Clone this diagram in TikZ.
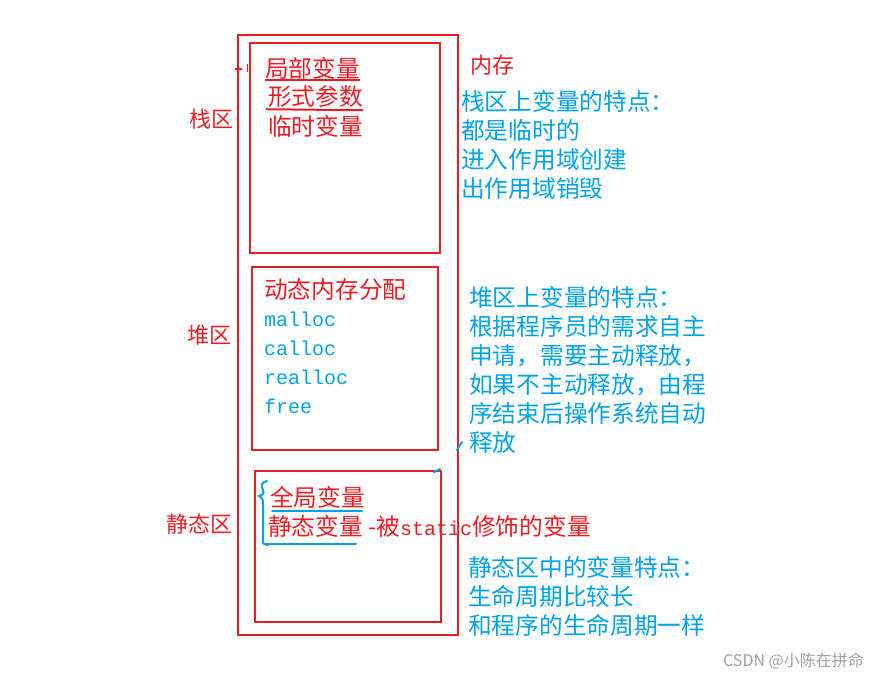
\documentclass[tikz,border=0pt]{standalone}
\usepackage{fontspec}
\setmainfont{Noto Sans CJK SC}
\newfontfamily\codefont{Liberation Mono}
\usetikzlibrary{positioning}
\definecolor{memRed}{RGB}{237,28,36}
\definecolor{memBlue}{RGB}{0,162,232}
\definecolor{markGray}{RGB}{160,160,160}

\begin{document}
\begin{tikzpicture}[
  x=1pt, y=-1pt,
  zone/.style={draw=memRed, line width=2pt},
  labeltxt/.style={text=memRed, font=\fontsize{22}{29}\selectfont, anchor=west, inner sep=0pt},
  redtxt/.style={text=memRed, font=\fontsize{23.7}{29}\selectfont, anchor=west, inner sep=0pt},
  bluetxt/.style={text=memBlue, font=\fontsize{23.7}{29}\selectfont, anchor=north west, inner sep=0pt, align=left},
  codetxt/.style={text=memBlue, font=\codefont\fontsize{20}{29}\selectfont, anchor=north west, inner sep=0pt, align=left},
  scrib/.style={draw=memBlue, line width=2pt, line cap=round},
  redline/.style={draw=memRed, line width=2pt}
]
  \useasboundingbox (0,0) rectangle (877,680);

  % memory and its three zones
  \draw[zone] (238,35) rectangle (458,635);
  \draw[zone] (250,43) rectangle (440,253);
  \draw[zone] (252,267) rectangle (438,450);
  \draw[zone] (255,471) rectangle (441,622);

  % zone names
  \node[labeltxt] (stackName) at (189,119) {栈区};
  \node[labeltxt] (heapName) at (187,335) {堆区};
  \node[labeltxt] (staticName) at (166,524) {静态区};
  \node[labeltxt] (memName) at (470,65) {内存};

  % stack zone
  \node[redtxt] (local) at (265,68) {局部变量};
  \node[redtxt] (param) at (268,97) {形式参数};
  \node[redtxt] (temp) at (268,126) {临时变量};
  \draw[redline] ([yshift=-1pt]local.south west) -- ([yshift=-1pt]local.south east);
  \draw[redline] ([xshift=-2pt,yshift=-1pt]param.south west) -- ([yshift=-2pt]param.south east);
  \draw[redline] (235,69) -- (242,69);
  \draw[redline, line width=1pt] (247,64) -- (247,72);

  \node[bluetxt] (stackNote) at (461,90) {栈区上变量的特点：\\都是临时的\\进入作用域创建\\出作用域销毁};

  % heap zone
  \node[redtxt] (dynMem) at (264,289) {动态内存分配};
  \node[codetxt] (funcs) at (264,312) {malloc\\calloc\\realloc\\free};

  \node[bluetxt] (heapNote) at (469,286) {堆区上变量的特点：\\根据程序员的需求自主\\申请，需要主动释放，\\如果不主动释放，由程\\序结束后操作系统自动\\释放};
  \draw[scrib] (457,450) -- (462,442);

  % static zone
  \node[redtxt] (global) at (270,497) {全局变量};
  \node[redtxt] (staticVar) at (268,526) {静态变量 -被{\codefont\fontsize{20}{20}\selectfont static}修饰的变量};
  \draw[scrib] (272,511) -- (362,511);
  \draw[scrib] (265,544) -- (356,544);
  \draw[scrib] (267,481) .. controls (261,482) and (261,486) .. (263,490)
    .. controls (264,494) .. (259,496) .. controls (263,499) .. (263,506)
    -- (263,540) .. controls (263,544) .. (268,545);
  \draw[scrib] (434,472) -- (440,469);

  \node[bluetxt] (staticNote) at (468,556) {静态区中的变量特点：\\生命周期比较长\\和程序的生命周期一样};

  % watermark
  \node[text=markGray, font=\fontsize{16}{16}\selectfont, anchor=east, inner sep=0pt] (mark) at (864,661) {CSDN @小陈在拼命};
\end{tikzpicture}
\end{document}
